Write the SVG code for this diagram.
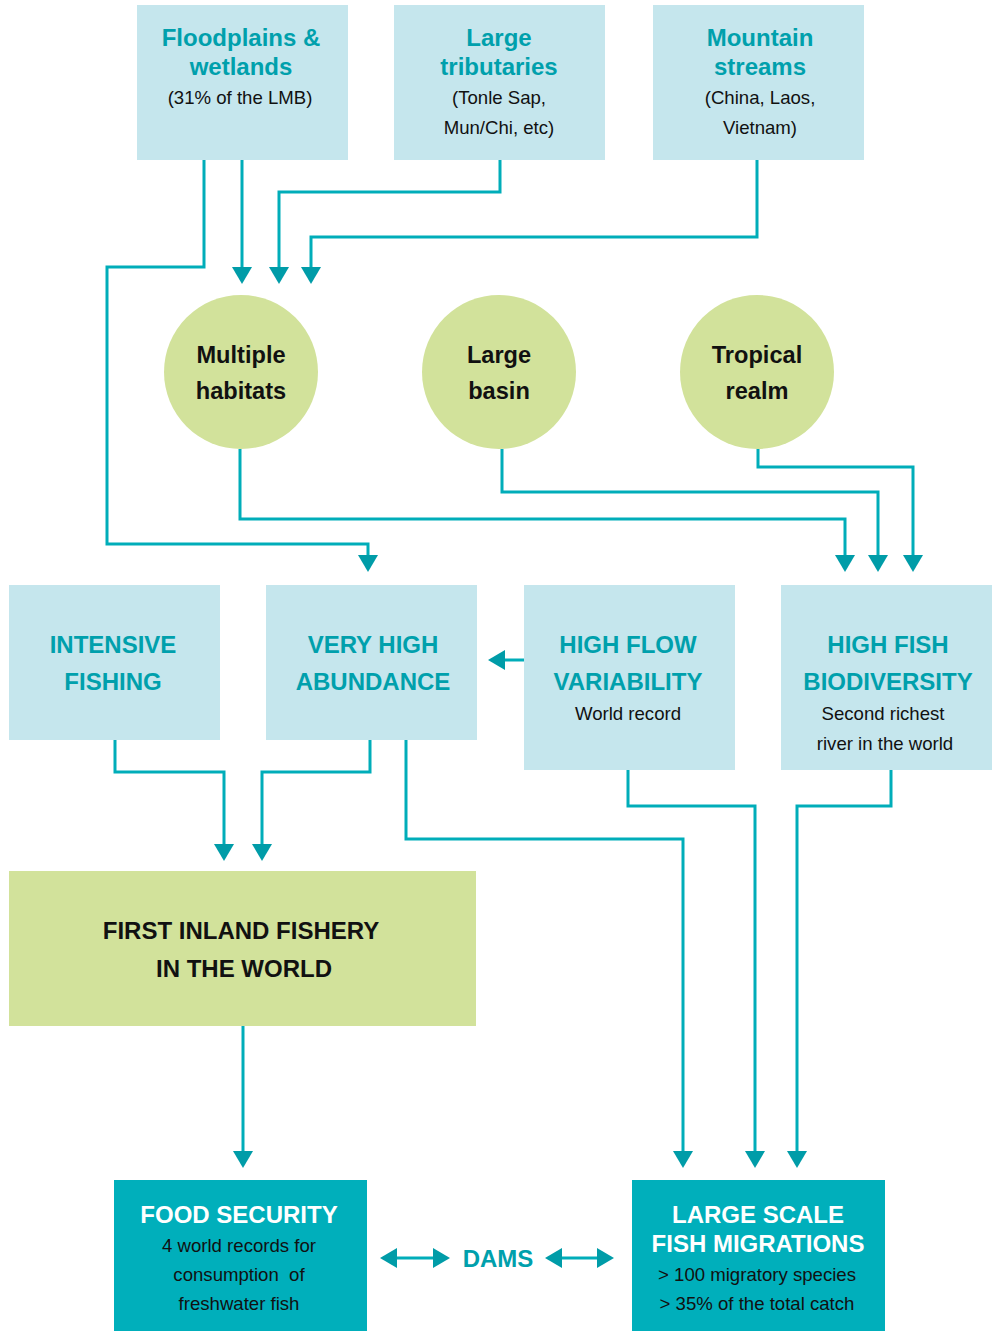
<svg xmlns="http://www.w3.org/2000/svg" width="992" height="1331" viewBox="0 0 992 1331">
<style>
.lb{fill:#c5e6ed}
.gr{fill:#d2e29b}
.dk{fill:#00afbb}
text{font-family:"Liberation Sans",Arial,sans-serif;text-anchor:middle}
.tt{font-size:24px;font-weight:bold;fill:#00a0ac}
.bk{font-size:24px;font-weight:bold;fill:#111}
.wt{font-size:24px;font-weight:bold;fill:#fff}
.sm{font-size:18.6px;fill:#111}
.ct{font-size:23.6px;font-weight:bold;fill:#111}
.cn{fill:none;stroke:#00adb9;stroke-width:3}
</style>
<defs>
<marker id="ah" markerUnits="userSpaceOnUse" markerWidth="18" markerHeight="22" viewBox="0 0 18 22" refX="0" refY="11" orient="auto-start-reverse">
<path d="M0,1 L17,11 L0,21 Z" fill="#009ca8"/>
</marker>
</defs>
<rect width="992" height="1331" fill="#fff"/>
<g id="connectors">
<path class="cn" d="M204,160 V267 H107 V544 H368 V555" marker-end="url(#ah)"/>
<path class="cn" d="M242,160 V267" marker-end="url(#ah)"/>
<path class="cn" d="M500,160 V192 H279 V267" marker-end="url(#ah)"/>
<path class="cn" d="M757,160 V237 H311 V267" marker-end="url(#ah)"/>
<path class="cn" d="M240,449 V519 H845 V555" marker-end="url(#ah)"/>
<path class="cn" d="M502,449 V492 H878 V555" marker-end="url(#ah)"/>
<path class="cn" d="M758,449 V467 H913 V555" marker-end="url(#ah)"/>
<path class="cn" d="M524,660 H505" marker-end="url(#ah)"/>
<path class="cn" d="M115,740 V772 H224 V844" marker-end="url(#ah)"/>
<path class="cn" d="M370,740 V772 H262 V844" marker-end="url(#ah)"/>
<path class="cn" d="M406,740 V839 H683 V1151" marker-end="url(#ah)"/>
<path class="cn" d="M628,770 V806 H755 V1151" marker-end="url(#ah)"/>
<path class="cn" d="M891,770 V806 H797 V1151" marker-end="url(#ah)"/>
<path class="cn" d="M243,1026 V1151" marker-end="url(#ah)"/>
<path class="cn" d="M397,1258 H433" marker-start="url(#ah)" marker-end="url(#ah)"/>
<path class="cn" d="M562,1258 H597" marker-start="url(#ah)" marker-end="url(#ah)"/>
</g>
<g id="floodplains">
<rect class="lb" x="137" y="5" width="211" height="155"/>
<text class="tt" x="241" y="46">Floodplains &amp;</text>
<text class="tt" x="241" y="75">wetlands</text>
<text class="sm" x="240" y="104">(31% of the LMB)</text>
</g>
<g id="tributaries">
<rect class="lb" x="394" y="5" width="211" height="155"/>
<text class="tt" x="499" y="46">Large</text>
<text class="tt" x="499" y="75">tributaries</text>
<text class="sm" x="499" y="104">(Tonle Sap,</text>
<text class="sm" x="499" y="134">Mun/Chi, etc)</text>
</g>
<g id="mountain">
<rect class="lb" x="653" y="5" width="211" height="155"/>
<text class="tt" x="760" y="46">Mountain</text>
<text class="tt" x="760" y="75">streams</text>
<text class="sm" x="760" y="104">(China, Laos,</text>
<text class="sm" x="760" y="134">Vietnam)</text>
</g>
<g id="habitats">
<circle class="gr" cx="241" cy="372" r="77"/>
<text class="ct" x="241" y="363">Multiple</text>
<text class="ct" x="241" y="399">habitats</text>
</g>
<g id="basin">
<circle class="gr" cx="499" cy="372" r="77"/>
<text class="ct" x="499" y="363">Large</text>
<text class="ct" x="499" y="399">basin</text>
</g>
<g id="tropical">
<circle class="gr" cx="757" cy="372" r="77"/>
<text class="ct" x="757" y="363">Tropical</text>
<text class="ct" x="757" y="399">realm</text>
</g>
<g id="intensive">
<rect class="lb" x="9" y="585" width="211" height="155"/>
<text class="tt" x="113" y="653">INTENSIVE</text>
<text class="tt" x="113" y="690">FISHING</text>
</g>
<g id="abundance">
<rect class="lb" x="266" y="585" width="211" height="155"/>
<text class="tt" x="373" y="653">VERY HIGH</text>
<text class="tt" x="373" y="690">ABUNDANCE</text>
</g>
<g id="flow">
<rect class="lb" x="524" y="585" width="211" height="185"/>
<text class="tt" x="628" y="653">HIGH FLOW</text>
<text class="tt" x="628" y="690">VARIABILITY</text>
<text class="sm" x="628" y="720">World record</text>
</g>
<g id="biodiversity">
<rect class="lb" x="781" y="585" width="211" height="185"/>
<text class="tt" x="888" y="653">HIGH FISH</text>
<text class="tt" x="888" y="690">BIODIVERSITY</text>
<text class="sm" x="883" y="720">Second richest</text>
<text class="sm" x="885" y="750">river in the world</text>
</g>
<g id="fishery">
<rect class="gr" x="9" y="871" width="467" height="155"/>
<text class="bk" x="241" y="939">FIRST INLAND FISHERY</text>
<text class="bk" x="244" y="977">IN THE WORLD</text>
</g>
<g id="food">
<rect class="dk" x="114" y="1180" width="253" height="151"/>
<text class="wt" x="239" y="1223">FOOD SECURITY</text>
<text class="sm" x="239" y="1252">4 world records for</text>
<text class="sm" x="239" y="1281" style="white-space:pre">consumption  of</text>
<text class="sm" x="239" y="1310">freshwater fish</text>
</g>
<g id="dams">
<text class="tt" x="498" y="1267">DAMS</text>
</g>
<g id="migrations">
<rect class="dk" x="632" y="1180" width="253" height="151"/>
<text class="wt" x="758" y="1223">LARGE SCALE</text>
<text class="wt" x="758" y="1252">FISH MIGRATIONS</text>
<text class="sm" x="757" y="1281">&gt; 100 migratory species</text>
<text class="sm" x="757" y="1310">&gt; 35% of the total catch</text>
</g>
</svg>
